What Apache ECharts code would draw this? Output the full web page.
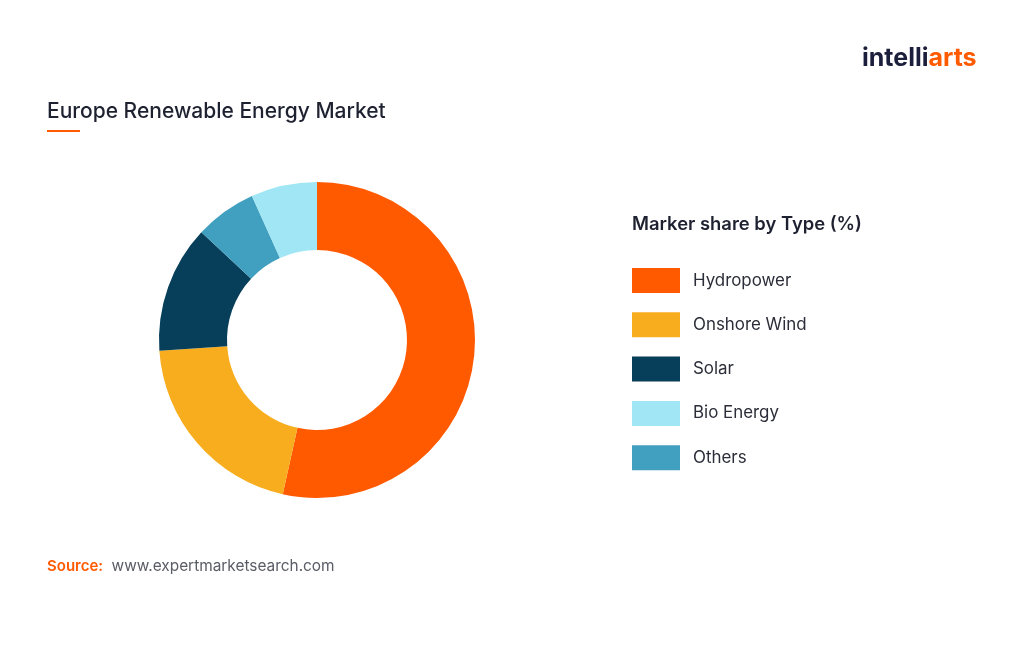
<!DOCTYPE html>
<html>
<head>
<meta charset="utf-8">
<script src="https://cdn.jsdelivr.net/npm/echarts@6/dist/echarts.min.js"></script>
<style>
html,body{margin:0;padding:0;background:#fff;}
#main{width:1024px;height:664px;}
</style>
</head>
<body>
<div id="main"></div>
<script>
// Data (order as drawn clockwise from 12 o'clock)
var categories = ['Hydropower', 'Onshore Wind', 'Solar', 'Others', 'Bio Energy'];
var shares = [53.4, 20.4, 13.0, 6.3, 6.75];
var colors = ['#FF5A00', '#F7AD1E', '#073F5B', '#419FBF', '#A0E6F4'];
var legendOrder = ['Hydropower', 'Onshore Wind', 'Solar', 'Bio Energy', 'Others'];

var FONT = 'Inter, "Noto Sans", sans-serif';

var pieData = categories.map(function (c, i) {
  return { name: c, value: shares[i], itemStyle: { color: colors[i] } };
});

var chart = echarts.init(document.getElementById('main'), null, { renderer: 'canvas' });
chart.setOption({
  backgroundColor: '#ffffff',
  animation: false,
  title: [
    {
      text: 'Europe Renewable Energy Market',
      left: 47, top: 101, padding: 0,
      textStyle: { fontFamily: FONT, fontSize: 21, fontWeight: 500, color: '#1E2130' }
    },
    {
      text: 'Marker share by Type (%)',
      left: 632, top: 215, padding: 0,
      textStyle: { fontFamily: FONT, fontSize: 18.4, fontWeight: 600, color: '#1E2130' }
    },
    {
      text: '{a|Source:}  {b|www.expertmarketsearch.com}',
      left: 47, top: 557, padding: 0,
      textStyle: {
        fontFamily: FONT,
        rich: {
          a: { fontFamily: FONT, fontSize: 15, fontWeight: 600, color: '#FF5A00' },
          b: { fontFamily: FONT, fontSize: 15.4, fontWeight: 400, color: '#5A5C66' }
        }
      }
    },
    {
      text: '{a|intelli}{b|arts}',
      left: 862, top: 46, padding: 0,
      textStyle: {
        rich: {
          a: { fontFamily: FONT, fontSize: 25, fontWeight: 700, color: '#1B1F3B' },
          b: { fontFamily: FONT, fontSize: 25, fontWeight: 700, color: '#FF5A00' }
        }
      }
    }
  ],
  graphic: [
    {
      type: 'rect',
      shape: { x: 47, y: 130, width: 33, height: 2 },
      style: { fill: '#FF5A00' }
    }
  ],
  legend: {
    data: legendOrder,
    orient: 'vertical',
    left: 632,
    top: 268,
    padding: 0,
    icon: 'rect',
    itemWidth: 48,
    itemHeight: 25,
    itemGap: 19.3,
    selectedMode: false,
    textStyle: { fontFamily: FONT, fontSize: 16.9, color: '#2B2D38', padding: [0, 0, 0, 8] }
  },
  series: [
    {
      type: 'pie',
      center: [317, 340],
      radius: [90, 158],
      startAngle: 90,
      clockwise: true,
      label: { show: false },
      labelLine: { show: false },
      itemStyle: { borderWidth: 0 },
      emphasis: { disabled: true },
      data: pieData
    }
  ]
});
</script>
</body>
</html>
